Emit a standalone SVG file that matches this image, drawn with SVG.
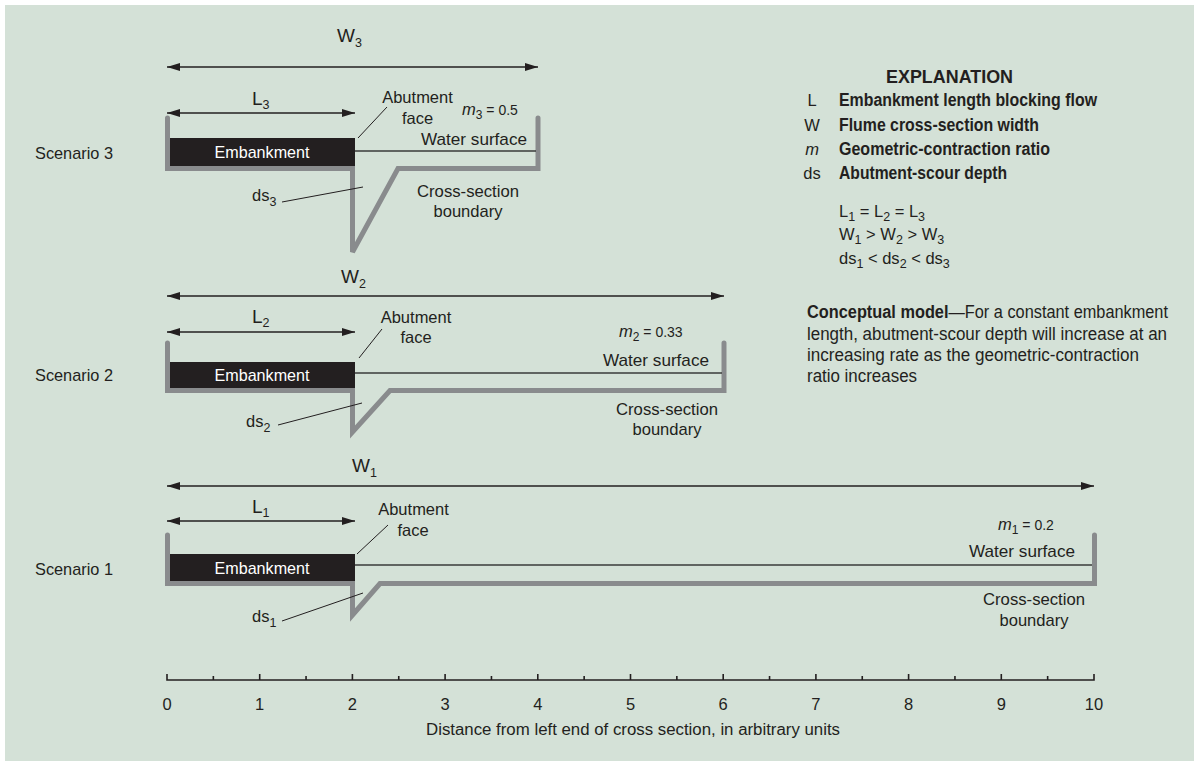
<svg xmlns="http://www.w3.org/2000/svg" width="1194" height="766" viewBox="0 0 1194 766">
<style>
text{font-family:"Liberation Sans",Arial,sans-serif;fill:#231f20}
.lbl{font-size:16.5px}
.big{font-size:19px}
.sub{font-size:12.5px}
.emb{font-size:17px;fill:#ffffff}
.bold{font-weight:bold}
.bnd{fill:none;stroke:#898b8d;stroke-width:5;stroke-linejoin:miter;stroke-linecap:round}
.dim{stroke:#231f20;stroke-width:1.5}
.water{stroke:#3a3a3a;stroke-width:1.3}
.lead{stroke:#231f20;stroke-width:1}
.ax{stroke:#231f20;stroke-width:1.6;fill:none}
</style>
<defs>
<marker id="ah" viewBox="0 0 13 8" refX="13" refY="4" markerWidth="13" markerHeight="8" markerUnits="userSpaceOnUse" orient="auto-start-reverse">
<path d="M0,0 L13,4 L0,8 z" fill="#231f20"/>
</marker>
</defs>
<rect x="5" y="5" width="1189" height="756" fill="#d4e1d7"/>

<!-- Scenario 3 -->
<g id="scenario3">
<text x="35" y="159" font-size="17" textLength="78" lengthAdjust="spacingAndGlyphs">Scenario 3</text>
<text x="337" y="42" class="big">W<tspan class="sub" dy="5">3</tspan></text>
<text x="252" y="105" class="big">L<tspan class="sub" dy="4">3</tspan></text>
<path class="bnd" d="M167.5,118 V168.5 H352.5 V252 L398,168.5 H538 V118"/>
<rect x="170" y="138" width="185" height="28" fill="#231f20"/>
<text x="262" y="158" class="emb" text-anchor="middle" textLength="95" lengthAdjust="spacingAndGlyphs">Embankment</text>
<line class="water" x1="355" y1="151" x2="536" y2="151"/>
<text x="417.5" y="103" class="lbl" text-anchor="middle">Abutment</text>
<text x="417.5" y="124" class="lbl" text-anchor="middle">face</text>
<line class="lead" x1="358" y1="138" x2="387" y2="107"/>
<text x="462" y="115" class="lbl"><tspan font-style="italic">m</tspan><tspan font-size="12" dy="4">3</tspan><tspan font-size="14" dy="-4"> = 0.5</tspan></text>
<text x="474" y="145" font-size="17" text-anchor="middle" textLength="106" lengthAdjust="spacingAndGlyphs">Water surface</text>
<text x="468" y="197" font-size="17" text-anchor="middle" textLength="102" lengthAdjust="spacingAndGlyphs">Cross-section</text>
<text x="468" y="217" font-size="17" text-anchor="middle" textLength="69" lengthAdjust="spacingAndGlyphs">boundary</text>
<text x="252" y="201" class="lbl">ds<tspan class="sub" dy="5">3</tspan></text>
<line class="lead" x1="282" y1="202" x2="363" y2="187"/>
</g>

<!-- Scenario 2 -->
<g id="scenario2">
<text x="35" y="381" font-size="17" textLength="78" lengthAdjust="spacingAndGlyphs">Scenario 2</text>
<text x="341" y="283" class="big">W<tspan class="sub" dy="5">2</tspan></text>
<text x="252" y="323" class="big">L<tspan class="sub" dy="4">2</tspan></text>
<path class="bnd" d="M167.5,343 V390.5 H352.5 V432 L390,390.5 H724 V343"/>
<rect x="170" y="362" width="185" height="26" fill="#231f20"/>
<text x="262" y="381" class="emb" text-anchor="middle" textLength="95" lengthAdjust="spacingAndGlyphs">Embankment</text>
<line class="water" x1="355" y1="373" x2="722" y2="373"/>
<text x="416" y="323" class="lbl" text-anchor="middle">Abutment</text>
<text x="416" y="343" class="lbl" text-anchor="middle">face</text>
<line class="lead" x1="359" y1="358" x2="382" y2="329"/>
<text x="619" y="337" class="lbl"><tspan font-style="italic">m</tspan><tspan font-size="12" dy="4">2</tspan><tspan font-size="14" dy="-4"> = 0.33</tspan></text>
<text x="656" y="366" font-size="17" text-anchor="middle" textLength="106" lengthAdjust="spacingAndGlyphs">Water surface</text>
<text x="667" y="415" font-size="17" text-anchor="middle" textLength="102" lengthAdjust="spacingAndGlyphs">Cross-section</text>
<text x="667" y="435" font-size="17" text-anchor="middle" textLength="69" lengthAdjust="spacingAndGlyphs">boundary</text>
<text x="246" y="427" class="lbl">ds<tspan class="sub" dy="5">2</tspan></text>
<line class="lead" x1="278" y1="425" x2="362" y2="403"/>
</g>

<!-- Scenario 1 -->
<g id="scenario1">
<text x="35" y="575" font-size="17" textLength="78" lengthAdjust="spacingAndGlyphs">Scenario 1</text>
<text x="352" y="472" class="big">W<tspan class="sub" dy="5">1</tspan></text>
<text x="252" y="513" class="big">L<tspan class="sub" dy="4">1</tspan></text>
<path class="bnd" d="M167.5,535 V583.5 H352.5 V615 L380,583.5 H1094.5 V535"/>
<rect x="170" y="554" width="185" height="27" fill="#231f20"/>
<text x="262" y="573.5" class="emb" text-anchor="middle" textLength="95" lengthAdjust="spacingAndGlyphs">Embankment</text>
<line class="water" x1="355" y1="565" x2="1092" y2="565"/>
<text x="413.5" y="515" class="lbl" text-anchor="middle">Abutment</text>
<text x="413" y="536" class="lbl" text-anchor="middle">face</text>
<line class="lead" x1="357" y1="554" x2="388" y2="525"/>
<text x="998" y="530" class="lbl"><tspan font-style="italic">m</tspan><tspan font-size="12" dy="4">1</tspan><tspan font-size="14" dy="-4"> = 0.2</tspan></text>
<text x="1022" y="557" font-size="17" text-anchor="middle" textLength="106" lengthAdjust="spacingAndGlyphs">Water surface</text>
<text x="1034" y="605" font-size="17" text-anchor="middle" textLength="102" lengthAdjust="spacingAndGlyphs">Cross-section</text>
<text x="1034" y="626" font-size="17" text-anchor="middle" textLength="69" lengthAdjust="spacingAndGlyphs">boundary</text>
<text x="252" y="622" class="lbl">ds<tspan class="sub" dy="5">1</tspan></text>
<line class="lead" x1="282" y1="621" x2="363" y2="593"/>
</g>

<!-- Dimension arrows -->
<g id="connectors">
<line class="dim" x1="167" y1="67" x2="538" y2="67" marker-start="url(#ah)" marker-end="url(#ah)"/>
<line class="dim" x1="167" y1="113" x2="355" y2="113" marker-start="url(#ah)" marker-end="url(#ah)"/>
<line class="dim" x1="167" y1="296" x2="724" y2="296" marker-start="url(#ah)" marker-end="url(#ah)"/>
<line class="dim" x1="167" y1="332" x2="355" y2="332" marker-start="url(#ah)" marker-end="url(#ah)"/>
<line class="dim" x1="167" y1="486" x2="1094" y2="486" marker-start="url(#ah)" marker-end="url(#ah)"/>
<line class="dim" x1="167" y1="521" x2="355" y2="521" marker-start="url(#ah)" marker-end="url(#ah)"/>
</g>

<!-- Explanation -->
<g id="explanation">
<text x="886" y="83" class="bold" font-size="19" textLength="127" lengthAdjust="spacingAndGlyphs">EXPLANATION</text>
<text x="812" y="106" class="lbl" text-anchor="middle">L</text>
<text x="839" y="106" class="bold" font-size="17.5" textLength="258" lengthAdjust="spacingAndGlyphs">Embankment length blocking flow</text>
<text x="812" y="131" class="lbl" text-anchor="middle">W</text>
<text x="839" y="131" class="bold" font-size="17.5" textLength="200" lengthAdjust="spacingAndGlyphs">Flume cross-section width</text>
<text x="812" y="155" class="lbl" text-anchor="middle" font-style="italic">m</text>
<text x="839" y="155" class="bold" font-size="17.5" textLength="211" lengthAdjust="spacingAndGlyphs">Geometric-contraction ratio</text>
<text x="812" y="179" class="lbl" text-anchor="middle">ds</text>
<text x="839" y="179" class="bold" font-size="17.5" textLength="168" lengthAdjust="spacingAndGlyphs">Abutment-scour depth</text>
<text x="839" y="217" class="lbl">L<tspan class="sub" dy="4">1</tspan><tspan dy="-4"> = L</tspan><tspan class="sub" dy="4">2</tspan><tspan dy="-4"> = L</tspan><tspan class="sub" dy="4">3</tspan></text>
<text x="839" y="240" class="lbl">W<tspan class="sub" dy="4">1</tspan><tspan dy="-4"> &gt; W</tspan><tspan class="sub" dy="4">2</tspan><tspan dy="-4"> &gt; W</tspan><tspan class="sub" dy="4">3</tspan></text>
<text x="839" y="264" class="lbl">ds<tspan class="sub" dy="4">1</tspan><tspan dy="-4"> &lt; ds</tspan><tspan class="sub" dy="4">2</tspan><tspan dy="-4"> &lt; ds</tspan><tspan class="sub" dy="4">3</tspan></text>
<text x="807" y="318" font-size="17.5" textLength="361" lengthAdjust="spacingAndGlyphs"><tspan class="bold">Conceptual model</tspan>—For a constant embankment</text>
<text x="807" y="340" font-size="17.5" textLength="360" lengthAdjust="spacingAndGlyphs">length, abutment-scour depth will increase at an</text>
<text x="807" y="361" font-size="17.5" textLength="332" lengthAdjust="spacingAndGlyphs">increasing rate as the geometric-contraction</text>
<text x="807" y="382" font-size="17.5" textLength="110" lengthAdjust="spacingAndGlyphs">ratio increases</text>
</g>

<!-- Axis -->
<g id="axis">
<path class="ax" d="M167,674 V680 H1094 V674"/>
<path class="ax" d="M213.35,676V680M259.7,674V680M306.05,676V680M352.4,674V680M398.75,676V680M445.1,674V680M491.45,676V680M537.8,674V680M584.15,676V680M630.5,674V680M676.85,676V680M723.2,674V680M769.55,676V680M815.9,674V680M862.25,676V680M908.6,674V680M954.95,676V680M1001.3,674V680M1047.65,676V680"/>
<g font-size="16.5" text-anchor="middle">
<text x="167" y="710">0</text>
<text x="259.7" y="710">1</text>
<text x="352.4" y="710">2</text>
<text x="445.1" y="710">3</text>
<text x="537.8" y="710">4</text>
<text x="630.5" y="710">5</text>
<text x="723.2" y="710">6</text>
<text x="815.9" y="710">7</text>
<text x="908.6" y="710">8</text>
<text x="1001.3" y="710">9</text>
<text x="1094" y="710">10</text>
</g>
<text x="633" y="735" font-size="16" text-anchor="middle" textLength="414" lengthAdjust="spacingAndGlyphs">Distance from left end of cross section, in arbitrary units</text>
</g>
</svg>
